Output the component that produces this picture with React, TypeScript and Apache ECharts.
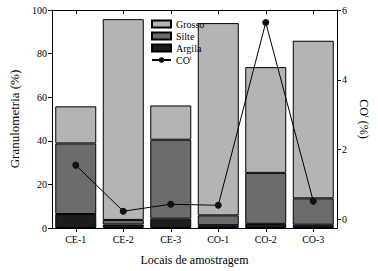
import React, { useEffect, useRef } from "react";
import * as echarts from "echarts";

const categories = ["CE-1", "CE-2", "CE-3", "CO-1", "CO-2", "CO-3"];
const argila = [6.4, 1.6, 4.3, 1.3, 1.9, 1.5];
const silte = [32.4, 2.1, 36.2, 4.5, 23.4, 12.1];
const grosso = [17.0, 92.1, 15.7, 88.2, 48.5, 72.3];
const cot = [1.56, 0.24, 0.44, 0.41, 5.64, 0.53];
const rightTicks = [0, 2, 4, 6];

const FONT = "Liberation Serif";

export default function App() {
  const ref = useRef<HTMLDivElement>(null);
  useEffect(() => {
    if (!ref.current) return;
    const chart = echarts.init(ref.current, null, { renderer: "svg" });
    const axisLine = { show: true, onZero: false, lineStyle: { color: "#000", width: 1 } };
    const label = { color: "#000", fontFamily: FONT, fontSize: 10 };
    chart.setOption({
      animation: false,
      backgroundColor: "#fff",
      textStyle: { fontFamily: FONT, color: "#000" },
      grid: { left: 44, right: 32, top: 10, bottom: 39 },
      legend: {
        orient: "vertical",
        left: 146,
        top: 14,
        itemWidth: 19,
        itemHeight: 7,
        itemGap: 2,
        textStyle: {
          fontFamily: FONT,
          fontSize: 10,
          color: "#000",
          rich: {
            b: { fontFamily: FONT, fontSize: 10, color: "#000" },
            sup: { fontFamily: FONT, fontSize: 6, color: "#000", verticalAlign: "top", padding: [0, 0, 4, 0] },
          },
        },
        formatter: (n: string) => (n === "COt" ? "{b|CO}{sup|t}" : n),
        data: [
          { name: "Grosso", icon: "rect" },
          { name: "Silte", icon: "rect" },
          { name: "Argila", icon: "rect" },
          { name: "COt" },
        ],
      },
      xAxis: [
        {
          type: "category",
          data: categories,
          position: "bottom",
          axisLine,
          axisTick: { show: true, alignWithLabel: true, length: 4, lineStyle: { color: "#000" } },
          axisLabel: { ...label, margin: 6 },
          name: "Locais de amostragem",
          nameLocation: "middle",
          nameGap: 26,
          nameTextStyle: { fontFamily: FONT, fontSize: 12, color: "#000" },
        },
        {
          type: "category",
          data: categories,
          position: "top",
          axisLine,
          axisTick: { show: true, inside: true, alignWithLabel: true, length: 4, lineStyle: { color: "#000" } },
          axisLabel: { show: false },
        },
      ],
      yAxis: [
        {
          type: "value",
          min: 0,
          max: 100,
          interval: 20,
          position: "left",
          axisLine,
          axisTick: { show: true, length: 4, lineStyle: { color: "#000" } },
          axisLabel: { ...label, margin: 5 },
          splitLine: { show: false },
          name: "Granulometria (%)",
          nameLocation: "middle",
          nameGap: 31,
          nameTextStyle: { fontFamily: FONT, fontSize: 13, color: "#000" },
        },
        {
          type: "value",
          min: -0.24,
          max: 6,
          position: "right",
          axisLine,
          axisTick: { show: true, length: 4, customValues: rightTicks, lineStyle: { color: "#000" } },
          axisLabel: { ...label, margin: 5, customValues: rightTicks },
          splitLine: { show: false },
          name: "CO{sup|t} (%)",
          nameLocation: "middle",
          nameRotate: -90,
          nameGap: 21,
          nameTextStyle: {
            fontFamily: FONT,
            fontSize: 12,
            color: "#000",
            rich: {
              sup: { fontFamily: FONT, fontSize: 7, color: "#000", verticalAlign: "top", padding: [0, 0, 5, 0] },
            },
          },
        },
      ],
      series: [
        {
          name: "Argila",
          type: "bar",
          stack: "g",
          barWidth: 41,
          data: argila,
          itemStyle: { color: "#1c1c1c", borderColor: "#000", borderWidth: 1 },
        },
        {
          name: "Silte",
          type: "bar",
          stack: "g",
          barWidth: 41,
          data: silte,
          itemStyle: { color: "#6b6b6b", borderColor: "#000", borderWidth: 1 },
        },
        {
          name: "Grosso",
          type: "bar",
          stack: "g",
          barWidth: 41,
          data: grosso,
          itemStyle: { color: "#b4b4b4", borderColor: "#000", borderWidth: 1 },
        },
        {
          name: "COt",
          type: "line",
          yAxisIndex: 1,
          data: cot,
          symbol: "circle",
          symbolSize: 7,
          lineStyle: { color: "#000", width: 1 },
          itemStyle: { color: "#111" },
          z: 5,
        },
      ],
    });
    return () => chart.dispose();
  }, []);
  return (
    <div
      ref={ref}
      style={{ position: "fixed", left: 0, top: 0, width: 378, height: 271 }}
    />
  );
}
